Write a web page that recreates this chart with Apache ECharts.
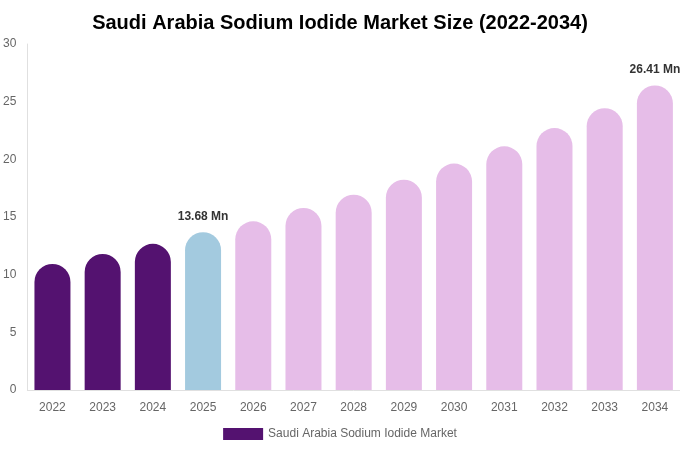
<!DOCTYPE html>
<html>
<head>
<meta charset="utf-8">
<script src="https://cdn.jsdelivr.net/npm/echarts@6/dist/echarts.min.js"></script>
<style>html,body{margin:0;padding:0;background:#fff}#c{width:680px;height:450px}</style>
</head>
<body>
<div id="c"></div>
<script>
var categories = ['2022','2023','2024','2025','2026','2027','2028','2029','2030','2031','2032','2033','2034'];
var values = [10.93, 11.8, 12.67, 13.68, 14.63, 15.78, 16.94, 18.24, 19.63, 21.13, 22.71, 24.44, 26.41];
var labelled = ['2025', '2034'];
var colorHistoric = '#541270';
var colorBase = '#a3cadf';
var colorForecast = '#e6bde8';

var chart = echarts.init(document.getElementById('c'));
var data = values.map(function (v, i) {
  var cat = categories[i];
  var col = i < 3 ? colorHistoric : (i === 3 ? colorBase : colorForecast);
  var d = { value: v, itemStyle: { color: col } };
  if (labelled.indexOf(cat) >= 0) {
    d.label = {
      show: true, position: 'top', distance: 10,
      formatter: function (p) { return p.value.toFixed(2) + ' Mn'; },
      fontFamily: 'Liberation Sans, Arial, sans-serif', fontWeight: 'bold', fontSize: 12, color: '#333'
    };
  }
  return d;
});
chart.setOption({
  animation: false,
  title: {
    text: 'Saudi Arabia Sodium Iodide Market Size (2022-2034)',
    left: 'center', top: 8,
    textStyle: { fontFamily: 'Liberation Sans, Arial, sans-serif', fontSize: 20, fontWeight: 'bold', color: '#000' }
  },
  legend: {
    bottom: 5, left: 'center',
    icon: 'rect',
    itemWidth: 40, itemHeight: 12, itemGap: 6,
    textStyle: { fontFamily: 'Liberation Sans, Arial, sans-serif', fontSize: 12, color: '#666' },
    data: [{ name: 'Saudi Arabia Sodium Iodide Market', itemStyle: { color: colorHistoric } }]
  },
  grid: { left: 27, right: 0, top: 44, bottom: 60, containLabel: false },
  xAxis: {
    type: 'category', data: categories,
    axisLine: { lineStyle: { color: '#e0e0e0' } },
    axisTick: { show: false },
    axisLabel: { color: '#666', fontSize: 12, margin: 12, fontFamily: 'Liberation Sans, Arial, sans-serif' }
  },
  yAxis: {
    type: 'value', min: 0, max: 30, interval: 5,
    axisLine: { show: true, lineStyle: { color: '#e0e0e0' } },
    axisTick: { show: false },
    splitLine: { show: false },
    axisLabel: { color: '#666', fontSize: 12, margin: 11, fontFamily: 'Liberation Sans, Arial, sans-serif' }
  },
  series: [{
    name: 'Saudi Arabia Sodium Iodide Market',
    type: 'bar', barWidth: 36,
    itemStyle: { borderRadius: [18, 18, 0, 0] },
    data: data
  }]
});
</script>
</body>
</html>
